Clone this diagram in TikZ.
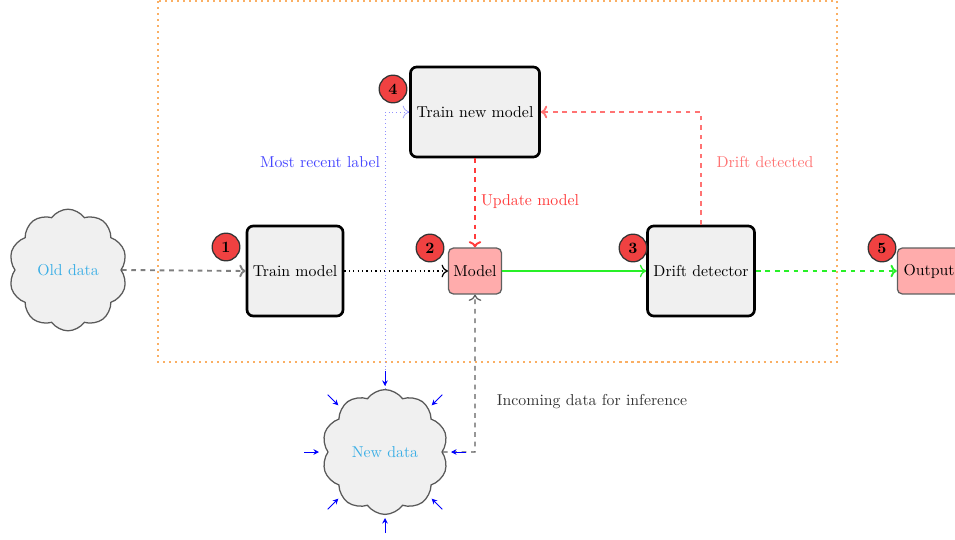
\documentclass[tikz,border=0pt]{standalone}
\usetikzlibrary{shapes.symbols,calc,arrows.meta}
\definecolor{skyt}{RGB}{60,175,230}
\definecolor{badgered}{RGB}{240,65,65}
\definecolor{boxfill}{RGB}{240,240,240}
\definecolor{pinkfill}{RGB}{255,172,172}
\definecolor{darkred}{RGB}{255,60,60}
\definecolor{lightred}{RGB}{255,115,115}
\definecolor{myblue}{RGB}{70,70,255}
\definecolor{myorange}{RGB}{250,175,100}
\definecolor{mygreen}{RGB}{40,240,40}
\definecolor{mygray}{RGB}{95,95,95}
\tikzset{
  bigbox/.style={draw=black,line width=1.7pt,rounded corners=4pt,fill=boxfill,inner sep=2pt},
  smallbox/.style={draw=mygray,thick,rounded corners=3pt,fill=pinkfill,inner sep=2pt,minimum height=29pt},
  badge/.style={circle,draw=black!80,thick,fill=badgered,minimum size=17.5pt,inner sep=0pt,font=\bfseries},
  datacloud/.style={cloud,cloud puffs=10,cloud puff arc=110,draw=black!65,thick,fill=boxfill,text=skyt,aspect=1},
  conn/.style={-{To[length=4pt,width=8pt]}},
}
\begin{document}
\begin{tikzpicture}[x=0.633pt,y=-0.633pt]
\useasboundingbox (0,0) rectangle (955,539);
% frame
\draw[myorange,line width=1.3pt,dash pattern=on 1.3pt off 2.5pt] (158,1) rectangle (837,362);
% nodes
\node[datacloud,minimum width=75pt,minimum height=77pt] (old) at (68,270) {Old data};
\node[bigbox,minimum width=60.8pt,minimum height=57pt] (train) at (295,271) {Train model};
\node[smallbox,minimum width=33.5pt] (model) at (475,271) {Model};
\node[bigbox,minimum width=81.7pt,minimum height=57pt] (trainnew) at (475,112) {Train new model};
\node[bigbox,minimum width=67.7pt,minimum height=57pt] (drift) at (701,271) {Drift detector};
\node[smallbox,minimum width=40pt] (output) at (929,271) {Output};
\node[datacloud,minimum width=80pt,minimum height=79pt] (new) at (385,452) {New data};
% badges
\node[badge] (b1) at (226,247) {1};
\node[badge] (b2) at (430,248) {2};
\node[badge] (b3) at (633,248) {3};
\node[badge] (b4) at (393,89) {4};
\node[badge] (b5) at (882,248) {5};
% labels
\node[text=myblue] (lblrecent) at (320,162) {Most recent label};
\node[text=darkred] (lblupdate) at (530,202) {Update model};
\node[text=lightred] (lbldrift) at (765,162) {Drift detected};
\node[text=black!80] (lblincoming) at (592,402) {Incoming data for inference};
% connectors
\draw[conn,mygray!80,very thick,dashed] (old.east) -- (train.west);
\draw[conn,black,thick,dotted] (train.east) -- (model.west);
\draw[conn,mygreen,thick] (model.east) -- (drift.west);
\draw[conn,mygreen,very thick,dashed] (drift.east) -- (output.west);
\draw[conn,darkred,very thick,dashed] (trainnew.south) -- (model.north);
\draw[conn,lightred,very thick,dashed] (drift.north) |- (trainnew.east);
\draw[conn,myblue!60,dotted] (new.north) |- (trainnew.west);
\coordinate (inc) at (475,452);
\draw[conn,mygray,thick,dashed] (new.east) -- (inc) -- (model.south);
% blue arrows around the new data cloud
\foreach \a in {0,45,...,315}{
  \draw[-{Stealth[length=3.5pt,width=3.5pt]},blue,semithick] ($(new.center)+(\a:81)$) -- ($(new.center)+(\a:66)$);
}
\end{tikzpicture}
\end{document}
